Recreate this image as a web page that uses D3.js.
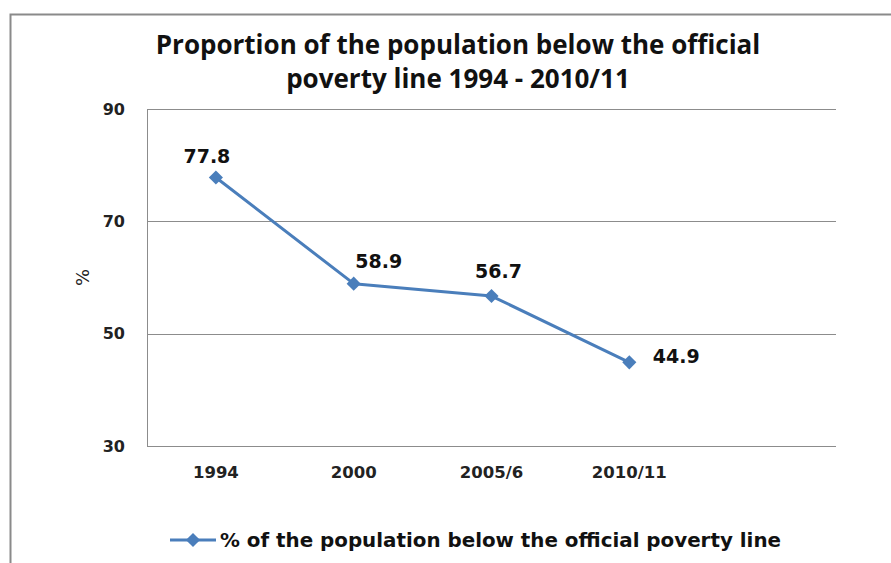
<!DOCTYPE html>
<html><head><meta charset="utf-8">
<script src="https://cdn.jsdelivr.net/npm/d3@7/dist/d3.min.js"></script>
<style>body{margin:0;background:#fff}svg{display:block}</style>
</head><body>
<svg id="c" width="891" height="563"></svg>
<script>
const categories = ["1994", "2000", "2005/6", "2010/11"];
const values = [77.8, 58.9, 56.7, 44.9];
const yTicks = [30, 50, 70, 90];
const titleLines = ["Proportion of the population below the official", "poverty line 1994 - 2010/11"];
const seriesName = "% of the population below the official poverty line";
const yLabel = "%";

const svg = d3.select("#c");
const m = {left: 147, right: 836, top: 109, bottom: 446};
const blue = "#4a7ebb", grid = "#8c8c8c";

// outer chart border
svg.append("rect").attr("x", 10.5).attr("y", 14.5).attr("width", 900).attr("height", 600)
  .attr("fill", "none").attr("stroke", "#8a8a8a").attr("stroke-width", 2);

const x = d3.scaleBand().domain(d3.range(categories.length + 1)).range([m.left, m.right]);
const y = d3.scaleLinear().domain([30, 90]).range([m.bottom, m.top]);

// gridlines
svg.append("g").selectAll("line").data(yTicks).join("line")
  .attr("x1", m.left).attr("x2", m.right)
  .attr("y1", d => Math.round(y(d)) + 0.5).attr("y2", d => Math.round(y(d)) + 0.5)
  .attr("stroke", grid).attr("stroke-width", 1);
svg.append("line").attr("x1", m.left + 0.5).attr("x2", m.left + 0.5)
  .attr("y1", m.top).attr("y2", m.bottom).attr("stroke", grid);

const tickFont = "'DejaVu Sans', Verdana, sans-serif";
// y tick labels
svg.append("g").selectAll("text").data(yTicks).join("text")
  .attr("x", 125).attr("y", d => y(d)).attr("dy", "0.35em")
  .attr("text-anchor", "end").attr("font-family", tickFont).attr("font-size", 16)
  .attr("font-weight", "bold").attr("fill", "#222").text(d => d);

// x tick labels
svg.append("g").selectAll("text").data(categories).join("text")
  .attr("x", (d, i) => x(i) + x.bandwidth() / 2).attr("y", 478)
  .attr("text-anchor", "middle").attr("font-family", tickFont).attr("font-size", 16.5)
  .attr("font-weight", "bold").attr("fill", "#222").text(d => d);

// y axis title
svg.append("text").attr("transform", `translate(89,${(m.top + m.bottom) / 2}) rotate(-90)`)
  .attr("text-anchor", "middle").attr("font-family", tickFont).attr("font-size", 18)
  .attr("fill", "#222").text(yLabel);

// title
svg.append("g").selectAll("text").data(titleLines).join("text")
  .attr("x", 458).attr("y", (d, i) => 54 + i * 34)
  .attr("text-anchor", "middle").attr("font-family", "'Open Sans', sans-serif")
  .attr("font-size", 26).attr("font-weight", "bold").attr("fill", "#111").text(d => d);

// line
const pts = values.map((v, i) => [x(i) + x.bandwidth() / 2, y(v)]);
svg.append("path").attr("d", d3.line()(pts)).attr("fill", "none")
  .attr("stroke", blue).attr("stroke-width", 3).attr("stroke-linejoin", "round");
const diamond = d3.symbol().type(d3.symbolSquare).size(100);
svg.append("g").selectAll("path").data(pts).join("path")
  .attr("d", diamond).attr("transform", d => `translate(${d[0]},${d[1]}) rotate(45)`)
  .attr("fill", blue);

// data labels (manually offset as in the original)
const labelDx = [-9, 25, 7, 47];
const labelDy = [-15, -16, -18, 1];
svg.append("g").selectAll("text").data(values).join("text")
  .attr("x", (d, i) => pts[i][0] + labelDx[i]).attr("y", (d, i) => pts[i][1] + labelDy[i])
  .attr("text-anchor", "middle").attr("font-family", tickFont).attr("font-size", 19)
  .attr("font-weight", "bold").attr("fill", "#111").text(d => d.toFixed(1));

// legend
const ly = 540;
svg.append("line").attr("x1", 170).attr("x2", 216).attr("y1", ly).attr("y2", ly)
  .attr("stroke", blue).attr("stroke-width", 3);
svg.append("path").attr("d", diamond).attr("transform", `translate(193,${ly}) rotate(45)`).attr("fill", blue);
svg.append("text").attr("x", 220).attr("y", ly).attr("dy", "0.35em")
  .attr("font-family", tickFont).attr("font-size", 20).attr("font-weight", "bold")
  .attr("textLength", 561).attr("lengthAdjust", "spacingAndGlyphs")
  .attr("fill", "#111").text(seriesName);
</script>
</body></html>
